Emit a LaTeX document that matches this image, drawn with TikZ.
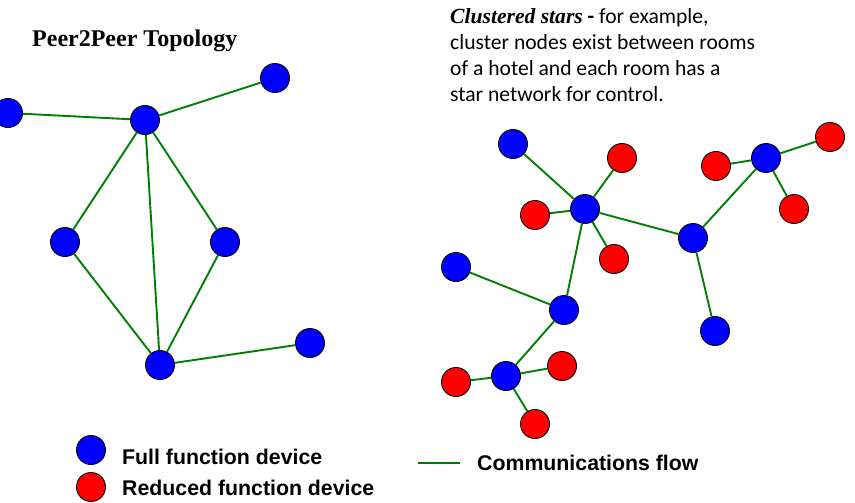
\documentclass[tikz,border=0pt]{standalone}
\usepackage{fontspec}
\setmainfont{Carlito}
\newfontfamily\serifb{Liberation Serif}
\newfontfamily\arialf{Liberation Sans}
\definecolor{edgegreen}{RGB}{0,128,0}
\begin{document}
\begin{tikzpicture}[x=1pt,y=-1pt,
  ffd/.style={circle,draw=black,line width=0.9pt,fill=blue,minimum size=29pt,inner sep=0pt},
  rfd/.style={circle,draw=black,line width=0.9pt,fill=red,minimum size=29pt,inner sep=0pt},
  link/.style={draw=edgegreen,line width=1.9pt},
  lbl/.style={anchor=west,inner sep=0pt,font=\arialf\bfseries\fontsize{21.3}{24}\selectfont}]
\useasboundingbox (0,0) rectangle (855,503);
% left topology
\node[ffd] (A) at (8,113) {};
\node[ffd] (B) at (145,120) {};
\node[ffd] (C) at (275,78) {};
\node[ffd] (D) at (65,242) {};
\node[ffd] (E) at (225,242) {};
\node[ffd] (F) at (160,365) {};
\node[ffd] (G) at (310,343) {};
\draw[link] (A) -- (B);
\draw[link] (B) -- (C);
\draw[link] (B) -- (D);
\draw[link] (B) -- (E);
\draw[link] (B) -- (F);
\draw[link] (D) -- (F);
\draw[link] (E) -- (F);
\draw[link] (F) -- (G);
% right clustered stars
\node[ffd] (H1) at (513,144) {};
\node[ffd] (H2) at (585,209) {};
\node[rfd] (R1) at (622,158) {};
\node[rfd] (R2) at (535,215) {};
\node[rfd] (R3) at (614,259) {};
\node[ffd] (I) at (693,238) {};
\node[ffd] (J) at (766,158) {};
\node[rfd] (R4) at (716,166) {};
\node[rfd] (R5) at (830,137) {};
\node[rfd] (R6) at (794,209) {};
\node[ffd] (K) at (715,331) {};
\node[ffd] (L) at (456,267) {};
\node[ffd] (M) at (564,310) {};
\node[ffd] (N) at (506,376) {};
\node[rfd] (R7) at (562,366) {};
\node[rfd] (R8) at (456,382) {};
\node[rfd] (R9) at (535,424) {};
\draw[link] (H1) -- (H2);
\draw[link] (R1) -- (H2);
\draw[link] (R2) -- (H2);
\draw[link] (R3) -- (H2);
\draw[link] (H2) -- (I);
\draw[link] (H2) -- (M);
\draw[link] (I) -- (J);
\draw[link] (I) -- (K);
\draw[link] (J) -- (R4);
\draw[link] (J) -- (R5);
\draw[link] (J) -- (R6);
\draw[link] (L) -- (M);
\draw[link] (M) -- (N);
\draw[link] (N) -- (R7);
\draw[link] (N) -- (R8);
\draw[link] (N) -- (R9);
% texts
\node[anchor=west,inner sep=0pt,font=\serifb\bfseries\fontsize{24}{27}\selectfont] (title) at (32,41) {Peer2Peer Topology};
\node[anchor=north west,inner sep=0pt,align=left,font=\fontsize{21.6}{26}\selectfont] (desc) at (450,8)
  {{\serifb\bfseries\itshape Clustered stars} \textbf{-} for example,\\cluster nodes exist between rooms\\of a hotel and each room has a\\star network for control.};
% legend
\node[ffd] (lf) at (91,450) {};
\node[rfd] (lr) at (91,487) {};
\node[lbl] (tf) at (122,457) {Full function device};
\node[lbl] (tr) at (122,488) {Reduced function device};
\coordinate (la) at (418,463);
\coordinate (lb) at (460,463);
\draw[link] (la) -- (lb);
\node[lbl] (tc) at (477,463) {Communications flow};
\end{tikzpicture}
\end{document}
